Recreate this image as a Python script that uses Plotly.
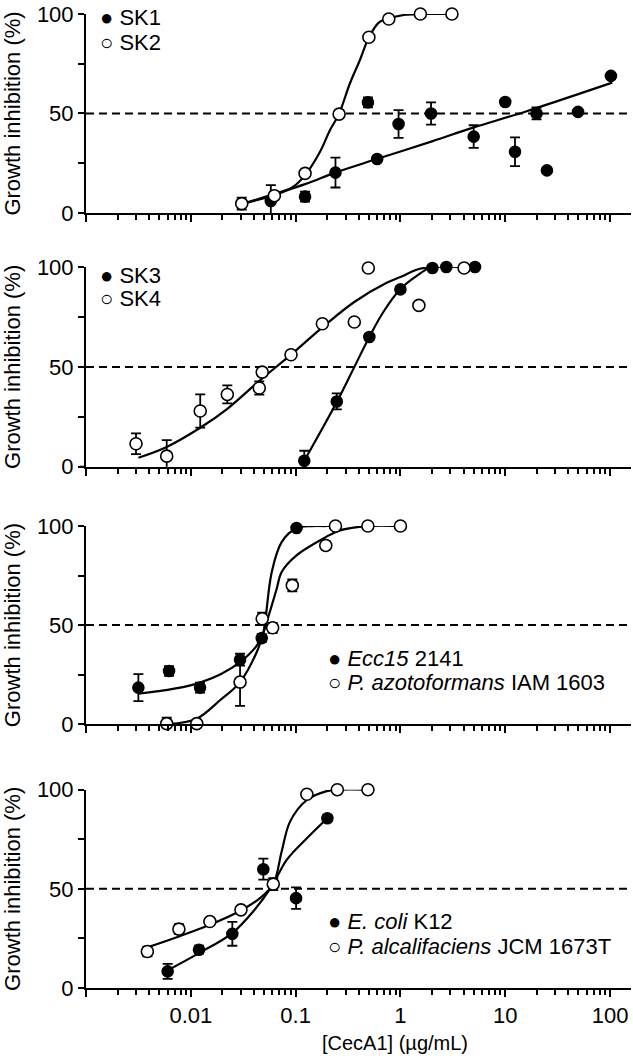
import plotly.graph_objects as go
from plotly.subplots import make_subplots

# ---- panel 1: SK1 / SK2 ----
SK1_X = [0.058, 0.123, 0.24, 0.49, 0.6, 0.96, 1.96, 5.0, 10.0, 12.4, 19.9, 25.0, 49.5, 102]
SK1_Y = [6.0, 8.2, 20.3, 55.6, 27.1, 44.7, 50.0, 38.4, 55.8, 30.8, 50.0, 21.4, 50.8, 68.9]
SK1_ERR = [8, 2.5, 7.5, 2.5, 1.5, 7, 5.6, 5.7, 1.5, 7.2, 3, 1, 1.5, 1.5]
SK1_FIT_X = [0.0306, 0.123, 0.238, 0.594, 2.0, 5.0, 15.5, 105]
SK1_FIT_Y = [4.5, 14.5, 20.3, 27.1, 36.0, 43.0, 50.9, 65.5]

SK2_X = [0.0306, 0.0627, 0.123, 0.26, 0.50, 0.774, 1.55, 3.1]
SK2_Y = [4.7, 8.7, 19.9, 49.7, 88.3, 97.5, 100, 100]
SK2_ERR = [3, 1.5, 1.5, 1.5, 1.5, 1, 0.5, 0.5]
SK2_FIT_X = [0.0306, 0.0627, 0.0951, 0.123, 0.171, 0.213, 0.259, 0.330, 0.411,
             0.501, 0.625, 0.774, 1.08, 1.55, 3.1]
SK2_FIT_Y = [4.5, 9.0, 13.2, 19.0, 30.8, 41.7, 49.7, 65.2, 76.9, 88.3, 95.8, 97.8,
             99.5, 100, 100]

# ---- panel 2: SK3 / SK4 ----
SK3_X = [0.121, 0.247, 0.505, 1.0, 2.02, 2.74, 5.15]
SK3_Y = [3.0, 32.7, 65.0, 88.8, 99.5, 100, 100]
SK3_ERR = [5, 4, 1.5, 1.5, 1, 0.5, 0.5]
SK3_FIT_X = [0.121, 0.247, 0.356, 0.505, 0.687, 1.0, 1.42, 2.02, 5.15]
SK3_FIT_Y = [3.0, 32.4, 49.0, 65.0, 77.5, 89.0, 95.5, 100, 100]

SK4_X = [0.0030, 0.00589, 0.0123, 0.0223, 0.045, 0.048, 0.0904, 0.18, 0.363, 0.494, 1.5, 4.05]
SK4_Y = [11.5, 5.3, 27.9, 36.2, 39.4, 47.4, 56.1, 71.6, 72.5, 99.5, 80.8, 99.5]
SK4_ERR = [5.2, 8, 8.3, 4.5, 3.3, 2, 1.5, 1.5, 1, 0.5, 1, 0.5]
SK4_FIT_X = [0.00316, 0.00589, 0.0123, 0.0223, 0.0451, 0.0904, 0.18, 0.363, 0.74,
             1.0, 1.5, 2.02, 4.05]
SK4_FIT_Y = [4.5, 9.9, 19.5, 29.0, 43.0, 56.1, 69.8, 82.5, 92.1, 95.0, 99.0, 100, 100]

# ---- panel 3: Ecc15 2141 / P. azotoformans IAM 1603 ----
ECC_X = [0.00316, 0.0062, 0.01225, 0.0295, 0.0475, 0.102, 0.194]
ECC_Y = [18.4, 26.8, 18.4, 32.5, 43.4, 99.0, 100.5]
ECC_ERR = [6.8, 2.5, 2.5, 3, 2, 1, 0.5]
ECC_FIT_X = [0.00316, 0.01225, 0.0295, 0.0474, 0.051, 0.0592, 0.0736, 0.102, 0.141, 0.194]
ECC_FIT_Y = [15.3, 20.9, 31.3, 43.4, 51.5, 76.8, 91.9, 99.0, 100, 100]

PAZ_X = [0.00589, 0.0114, 0.0295, 0.048, 0.0604, 0.093, 0.194, 0.24, 0.489, 1.0]
PAZ_Y = [0.2, 0.2, 21.2, 53.2, 48.6, 70.0, 90.2, 100, 100, 100]
PAZ_ERR = [3, 0.5, 12, 3, 2.5, 3, 2, 0.5, 0.5, 0.5]
PAZ_FIT_X = [0.0061, 0.01138, 0.019, 0.0295, 0.0426, 0.053, 0.066, 0.0736, 0.102,
             0.194, 0.265, 0.489, 1.0]
PAZ_FIT_Y = [0.0, 2.7, 12.0, 21.2, 36.4, 51.5, 68.3, 76.8, 85.2, 94.4, 97.8, 100, 100]

# ---- panel 4: E. coli K12 / P. alcalifaciens JCM 1673T ----
ECO_X = [0.00601, 0.01197, 0.0249, 0.0492, 0.101, 0.201]
ECO_Y = [8.4, 19.3, 27.3, 59.9, 45.3, 85.6]
ECO_ERR = [3.8, 2, 6, 5.3, 5.4, 1.5]
ECO_FIT_X = [0.0061, 0.01197, 0.0249, 0.0394, 0.0592, 0.0822, 0.128, 0.201]
ECO_FIT_Y = [9.1, 17.6, 27.7, 38.6, 51.2, 64.6, 75.5, 85.6]

PAL_X = [0.00385, 0.0077, 0.0152, 0.0301, 0.0612, 0.128, 0.25, 0.49]
PAL_Y = [18.4, 29.7, 33.5, 39.4, 52.4, 97.7, 100, 100]
PAL_ERR = [2.5, 2.5, 1, 1, 3, 0.5, 0.5, 0.5]
PAL_FIT_X = [0.00385, 0.0077, 0.0152, 0.0301, 0.0457, 0.0612, 0.0736, 0.0885, 0.128,
             0.198, 0.258, 0.489]
PAL_FIT_Y = [20.5, 26.0, 31.9, 39.1, 45.3, 52.4, 68.8, 83.9, 94.8, 99.3, 100, 100]

PANELS = [
    [("SK1", SK1_X, SK1_Y, SK1_ERR, SK1_FIT_X, SK1_FIT_Y, True),
     ("SK2", SK2_X, SK2_Y, SK2_ERR, SK2_FIT_X, SK2_FIT_Y, False)],
    [("SK3", SK3_X, SK3_Y, SK3_ERR, SK3_FIT_X, SK3_FIT_Y, True),
     ("SK4", SK4_X, SK4_Y, SK4_ERR, SK4_FIT_X, SK4_FIT_Y, False)],
    [("<i>Ecc15</i> 2141", ECC_X, ECC_Y, ECC_ERR, ECC_FIT_X, ECC_FIT_Y, True),
     ("<i>P. azotoformans</i> IAM 1603", PAZ_X, PAZ_Y, PAZ_ERR, PAZ_FIT_X, PAZ_FIT_Y, False)],
    [("<i>E. coli</i> K12", ECO_X, ECO_Y, ECO_ERR, ECO_FIT_X, ECO_FIT_Y, True),
     ("<i>P. alcalifaciens</i> JCM 1673T", PAL_X, PAL_Y, PAL_ERR, PAL_FIT_X, PAL_FIT_Y, False)],
]

X_TICKS = [0.001, 0.01, 0.1, 1, 10, 100]
X_TICK_TEXT = ["", "0.01", "0.1", "1", "10", "100"]
X_MINOR = [k * 10.0 ** e for e in range(-3, 2) for k in range(2, 10)]
Y_TICKS = [0, 25, 50, 75, 100]
Y_TICK_TEXT = ["0", "", "50", "", "100"]
X_TITLE = "[CecA1] (µg/mL)"
Y_TITLE = "Growth inhibition (%)"

FONT = "Liberation Sans, Arial, sans-serif"
Y_DOMAINS = [(0.7957, 1.0), (0.5352, 0.7402), (0.2710, 0.4743), (0.0, 0.2036)]
# legend rows (x in domain fraction, y rows in domain fraction)
LEGEND_POS = [(0.022, (0.98, 0.859)), (0.022, (0.958, 0.841)),
              (0.44, (0.333, 0.212)), (0.44, (0.334, 0.208))]

fig = make_subplots(rows=4, cols=1)

for row, series in enumerate(PANELS, start=1):
    xd = "x domain" if row == 1 else f"x{row} domain"
    yd = "y domain" if row == 1 else f"y{row} domain"
    yr = "y" if row == 1 else f"y{row}"

    for name, x, y, err, fx, fy, filled in series:
        fig.add_trace(
            go.Scatter(
                x=fx, y=fy, mode="lines", line=dict(color="black", width=2.2,
                                                     shape="spline", smoothing=1.0),
                showlegend=False, hoverinfo="skip",
            ),
            row=row, col=1,
        )
    for name, x, y, err, fx, fy, filled in series:
        fig.add_trace(
            go.Scatter(
                x=x, y=y, mode="markers", name=name,
                error_y=dict(type="data", array=err, color="black", thickness=1.8, width=5),
                marker=dict(size=12 if not filled else 11,
                            color="black" if filled else "white",
                            line=dict(color="black", width=1.6)),
                cliponaxis=False, showlegend=False,
            ),
            row=row, col=1,
        )

    ya = "yaxis" if row == 1 else f"yaxis{row}"
    fig.layout[ya].domain = Y_DOMAINS[row - 1]
    fig.update_xaxes(
        type="log", range=[-3, 2.2], showline=True, linecolor="black", linewidth=2,
        ticks="outside", ticklen=7, tickwidth=2, tickcolor="black",
        tickvals=X_TICKS, ticktext=X_TICK_TEXT if row == 4 else [""] * len(X_TICKS),
        tickfont=dict(size=22),
        minor=dict(tickvals=X_MINOR, ticks="outside", ticklen=5, tickwidth=1.5,
                   tickcolor="black"),
        showgrid=False, zeroline=False, automargin=False,
        row=row, col=1,
    )
    fig.update_yaxes(
        range=[0, 100], showline=True, linecolor="black", linewidth=2,
        ticks="outside", ticklen=6, tickwidth=2, tickcolor="black",
        tickvals=Y_TICKS, ticktext=Y_TICK_TEXT, tickfont=dict(size=22),
        showgrid=False, zeroline=False, automargin=False,
        title_text=Y_TITLE, title_font=dict(size=22), title_standoff=12,
        row=row, col=1,
    )
    # dashed 50 % line
    fig.add_shape(
        type="line", xref=xd, yref=yr, x0=0, x1=1, y0=50, y1=50, layer="below",
        line=dict(color="black", width=2, dash="8px,5px"),
    )
    # x axis line pokes a little past the y axis
    fig.add_shape(
        type="line", xref=xd, yref=yd, x0=-0.012, x1=0, y0=0, y1=0,
        line=dict(color="black", width=2),
    )
    lx, rows_y = LEGEND_POS[row - 1]
    for (name, *_rest, filled), ly in zip(series, rows_y):
        glyph = "●" if filled else "○"
        fig.add_annotation(
            xref=xd, yref=yd,
            x=lx, y=ly, xanchor="left", yanchor="middle", showarrow=False,
            text=f"<span style='font-size:22px'>{glyph}</span> {name}",
            font=dict(size=22, color="black", family=FONT),
        )

fig.add_annotation(
    xref="x4 domain", yref="paper", x=0.567, y=-0.056, yanchor="middle",
    showarrow=False, text=X_TITLE, font=dict(size=20, color="black", family=FONT),
)

fig.update_layout(
    width=633, height=1064,
    margin=dict(l=86, r=2, t=14, b=76),
    plot_bgcolor="white", paper_bgcolor="white",
    font=dict(family=FONT, size=20, color="black"),
    showlegend=False,
)

# drop the default 8px page margin so the figure sits at the window corner
fig.write_html("out.html", config={"displayModeBar": False},
               post_script="document.body.style.margin = '0px';")
